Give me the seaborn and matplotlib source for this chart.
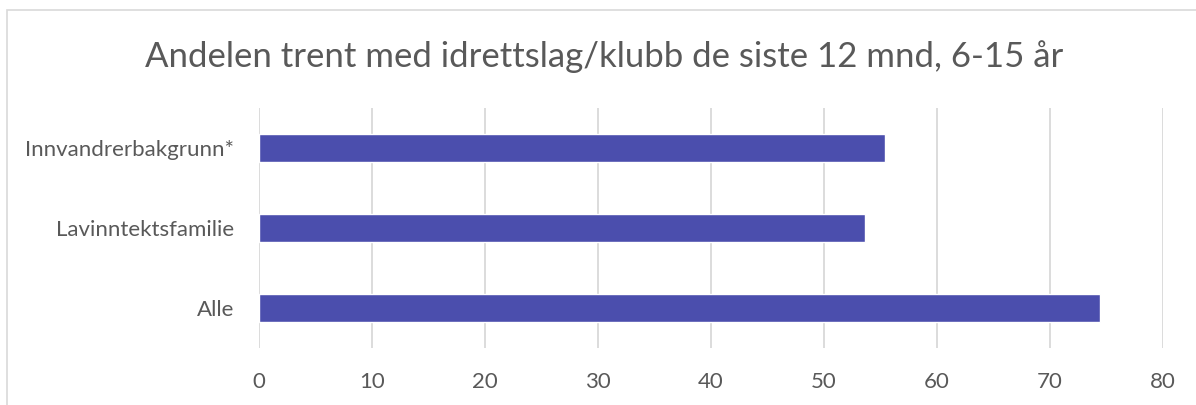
import matplotlib
matplotlib.use("Agg")
import matplotlib.pyplot as plt
import seaborn as sns
import pandas as pd
from matplotlib.patches import Rectangle

# data
categories = ["Innvandrerbakgrunn*", "Lavinntektsfamilie", "Alle"]
values = [55.4, 53.6, 74.4]
xticks = [0, 10, 20, 30, 40, 50, 60, 70, 80]

title = "Andelen trent med idrettslag/klubb de siste 12 mnd, 6-15 år"

sns.set_style("white")
plt.rcParams["font.family"] = ["Lato", "DejaVu Sans"]

text_col = "#595959"
bar_col = "#4B4EAD"
grid_col = "#D9D9D9"

df = pd.DataFrame({"gruppe": categories, "andel": values})

fig = plt.figure(figsize=(11.96, 4.05), dpi=100)
ax = fig.add_axes([0.2166, 0.1407, 0.7559, 0.5926])

sns.barplot(data=df, x="andel", y="gruppe", order=categories, orient="h",
            color=bar_col, saturation=1, width=0.35, ax=ax, zorder=3)

ax.set_xlim(0, 80)
ax.set_ylim(2.5, -0.5)
ax.set_xticks(xticks)
ax.set_xticklabels([str(t) for t in xticks])
ax.set_xlabel("")
ax.set_ylabel("")

for t in xticks:
    ax.axvline(t, color=grid_col, lw=1.3, zorder=1)

for s in ax.spines.values():
    s.set_visible(False)

ax.tick_params(axis="both", length=0, labelsize=16, labelcolor=text_col)
ax.tick_params(axis="y", pad=18)
ax.tick_params(axis="x", pad=17)

fig.text(0.505, 0.86, title, ha="center", va="center", fontsize=25, color=text_col)

# chart frame (only top/left visible in the crop)
fig.patches.append(Rectangle((7 / 1196, -0.1), 1.2, 1 - 10 / 405 + 0.1,
                             transform=fig.transFigure, fill=False,
                             edgecolor=grid_col, lw=1.2))

fig.savefig("out.png", dpi=100, facecolor="white")
